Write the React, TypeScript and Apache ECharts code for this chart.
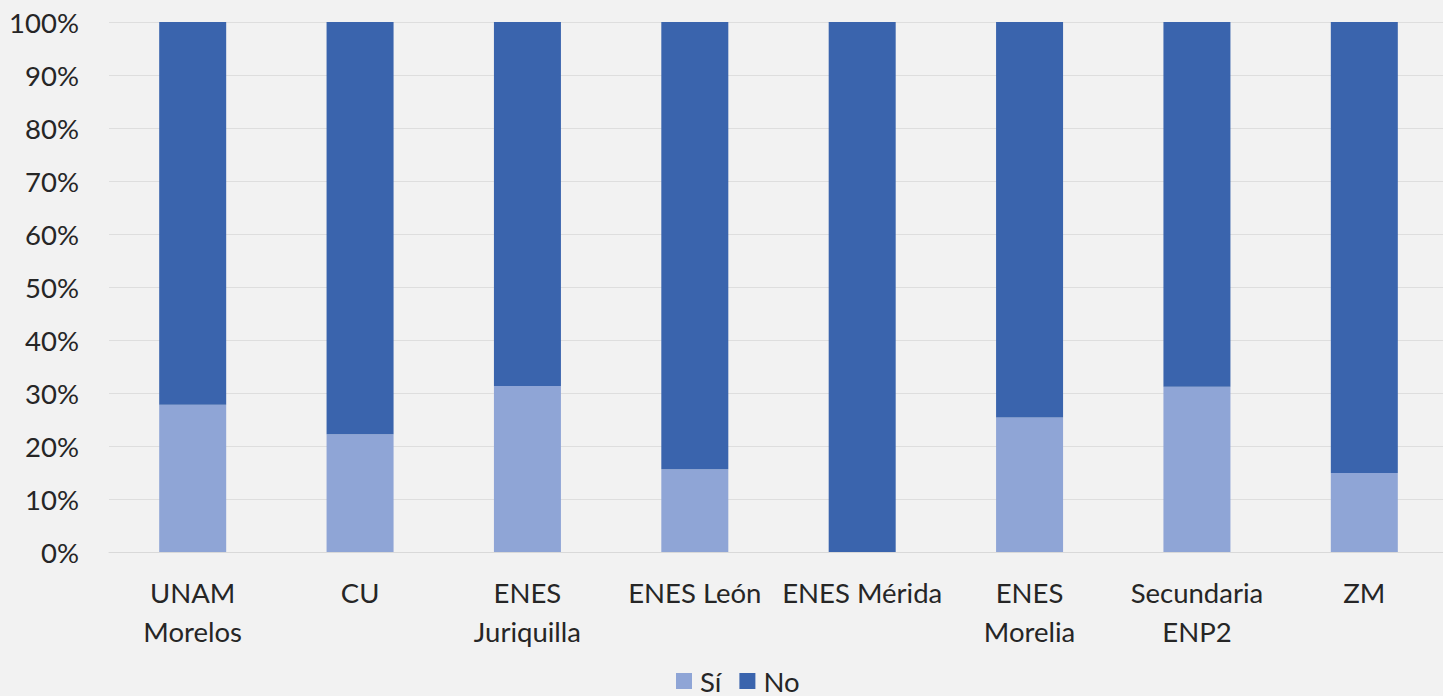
import React, { useEffect, useRef } from "react";
import * as echarts from "echarts";

const categories = [
  "UNAM\nMorelos",
  "CU",
  "ENES\nJuriquilla",
  "ENES León",
  "ENES Mérida",
  "ENES\nMorelia",
  "Secundaria\nENP2",
  "ZM",
];
const siValues = [27.8, 22.2, 31.3, 15.6, 0, 25.4, 31.2, 14.9];
const noValues = [72.2, 77.8, 68.7, 84.4, 100, 74.6, 68.8, 85.1];
const seriesNames = ["Sí", "No"];
const colors = ["#8FA5D6", "#3A64AD"];

export default function App() {
  const ref = useRef<HTMLDivElement>(null);
  useEffect(() => {
    document.body.style.margin = "0";
    document.body.style.overflow = "hidden";
    const chart = echarts.init(ref.current!, null, { renderer: "svg" });
    const font = "Lato, 'Open Sans', sans-serif";
    chart.setOption({
      animation: false,
      backgroundColor: "#F2F2F2",
      grid: { left: 109, right: 12, top: 22, bottom: 144, containLabel: false },
      legend: {
        top: 662,
        left: 671,
        itemWidth: 16,
        itemHeight: 16,
        itemGap: 18,
        icon: "rect",
        textStyle: { fontFamily: font, fontSize: 27.5, color: "#262626", padding: [0, 0, 0, 3] },
        data: seriesNames,
      },
      xAxis: {
        type: "category",
        data: categories,
        axisLine: { show: true, lineStyle: { color: "#D9D9D9", width: 1 } },
        axisTick: { show: false },
        axisLabel: {
          fontFamily: font,
          fontSize: 27.5,
          color: "#262626",
          margin: 21,
          lineHeight: 39,
          interval: 0,
        },
      },
      yAxis: {
        type: "value",
        min: 0,
        max: 100,
        interval: 10,
        axisLine: { show: false },
        axisTick: { show: false },
        splitLine: { lineStyle: { color: "#DEDEDE", width: 1 } },
        axisLabel: {
          fontFamily: font,
          fontSize: 27.5,
          color: "#262626",
          margin: 30,
          formatter: "{value}%",
        },
      },
      series: [
        {
          name: seriesNames[0],
          type: "bar",
          stack: "total",
          data: siValues,
          barWidth: 67,
          itemStyle: { color: colors[0] },
        },
        {
          name: seriesNames[1],
          type: "bar",
          stack: "total",
          data: noValues,
          barWidth: 67,
          itemStyle: { color: colors[1] },
        },
      ],
    });
    return () => chart.dispose();
  }, []);
  return <div ref={ref} style={{ width: 1460, height: 696 }} />;
}
